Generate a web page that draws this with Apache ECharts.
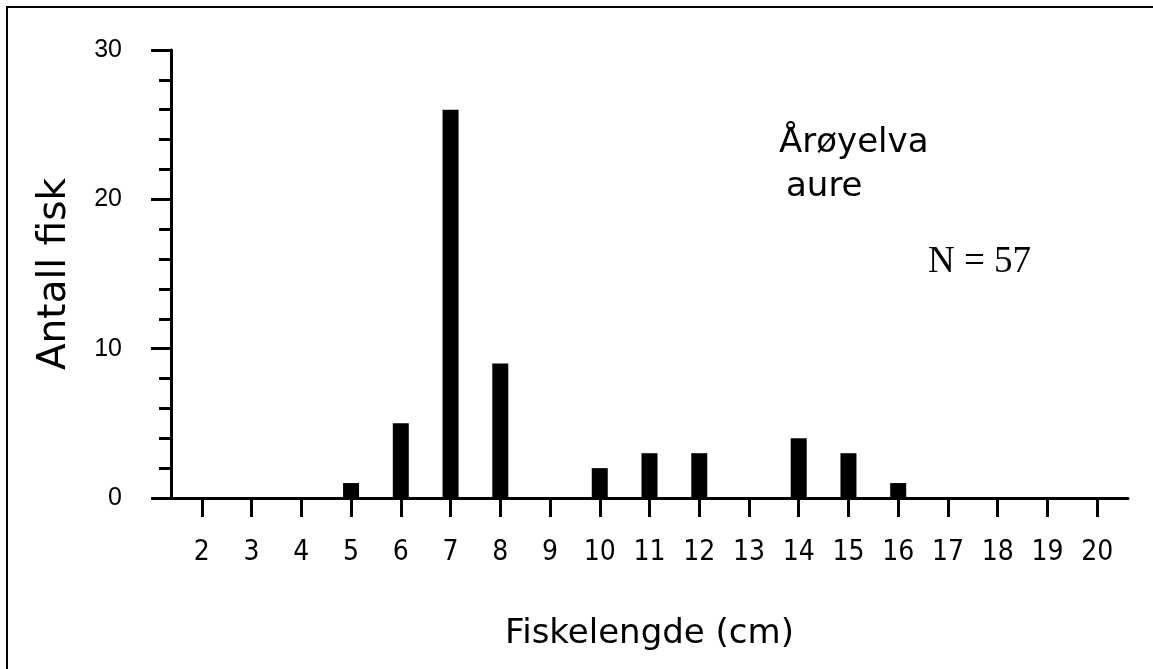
<!DOCTYPE html>
<html>
<head>
<meta charset="utf-8">
<script src="https://cdn.jsdelivr.net/npm/echarts@6/dist/echarts.min.js"></script>
<style>
html,body{margin:0;padding:0;background:#fff;}
#chart{width:1153px;height:669px;}
</style>
</head>
<body>
<div id="chart"></div>
<script>
// Data
const lengths = [2,3,4,5,6,7,8,9,10,11,12,13,14,15,16,17,18,19,20];
const counts  = [0,0,0,1,5,26,9,0,2,3,3,0,4,3,1,0,0,0,0];
const yTicks = [0,10,20,30];
const xTitle = 'Fiskelengde (cm)';
const yTitle = 'Antall fisk';
const labelRiver = 'Årøyelva';
const labelSpecies = 'aure';
const labelN = 'N = 57';

const barData = lengths.map((x,i)=>[x,counts[i]]).filter(d=>d[1]>0);

const chart = echarts.init(document.getElementById('chart'), null, {renderer:'canvas'});
chart.setOption({
  backgroundColor:'#ffffff',
  animation:false,
  grid:{left:171, right:25, top:50, bottom:171, containLabel:false},
  xAxis:{
    type:'value', min:1.38, max:20.62,
    name:xTitle, nameLocation:'middle', nameGap:119,
    nameTextStyle:{fontFamily:'DejaVu Sans', fontSize:34, color:'#000'},
    axisLine:{show:true, lineStyle:{color:'#000', width:3}},
    axisTick:{show:true, length:19, lineStyle:{color:'#000', width:3}, customValues:lengths},
    axisLabel:{color:'#000', fontFamily:'"Liberation Sans Narrow","DejaVu Sans Condensed",sans-serif', fontSize:28, lineHeight:28, margin:41, customValues:lengths, formatter:v=>String(v)},
    splitLine:{show:false}
  },
  yAxis:{
    type:'value', min:0, max:30, interval:10,
    name:yTitle, nameLocation:'middle', nameGap:97, nameRotate:90,
    nameTextStyle:{fontFamily:'DejaVu Sans', fontSize:39, color:'#000'},
    axisLine:{show:true, lineStyle:{color:'#000', width:3}},
    axisTick:{show:true, length:20, lineStyle:{color:'#000', width:3}},
    minorTick:{show:true, splitNumber:5, length:12, lineStyle:{color:'#000', width:3}},
    axisLabel:{color:'#000', fontFamily:'Liberation Sans', fontSize:25, lineHeight:25, margin:49, padding:[5,0,0,0]},
    splitLine:{show:false}
  },
  series:[{
    type:'bar', data:barData, barWidth:16,
    itemStyle:{color:'#000'}
  }],
  graphic:[
    {type:'rect', shape:{x:7, y:7, width:1170, height:700}, style:{fill:'none', stroke:'#000', lineWidth:2}, silent:true},
    {type:'text', x:779, y:143, style:{text:labelRiver, font:'34px "DejaVu Sans"', fill:'#000', textAlign:'left', textVerticalAlign:'middle'}},
    {type:'text', x:786, y:187, style:{text:labelSpecies, font:'34px "DejaVu Sans"', fill:'#000', textAlign:'left', textVerticalAlign:'middle'}},
    {type:'text', x:928, y:262, style:{text:labelN, font:'37px "Liberation Serif"', fill:'#000', textAlign:'left', textVerticalAlign:'middle'}}
  ]
});
</script>
</body>
</html>
